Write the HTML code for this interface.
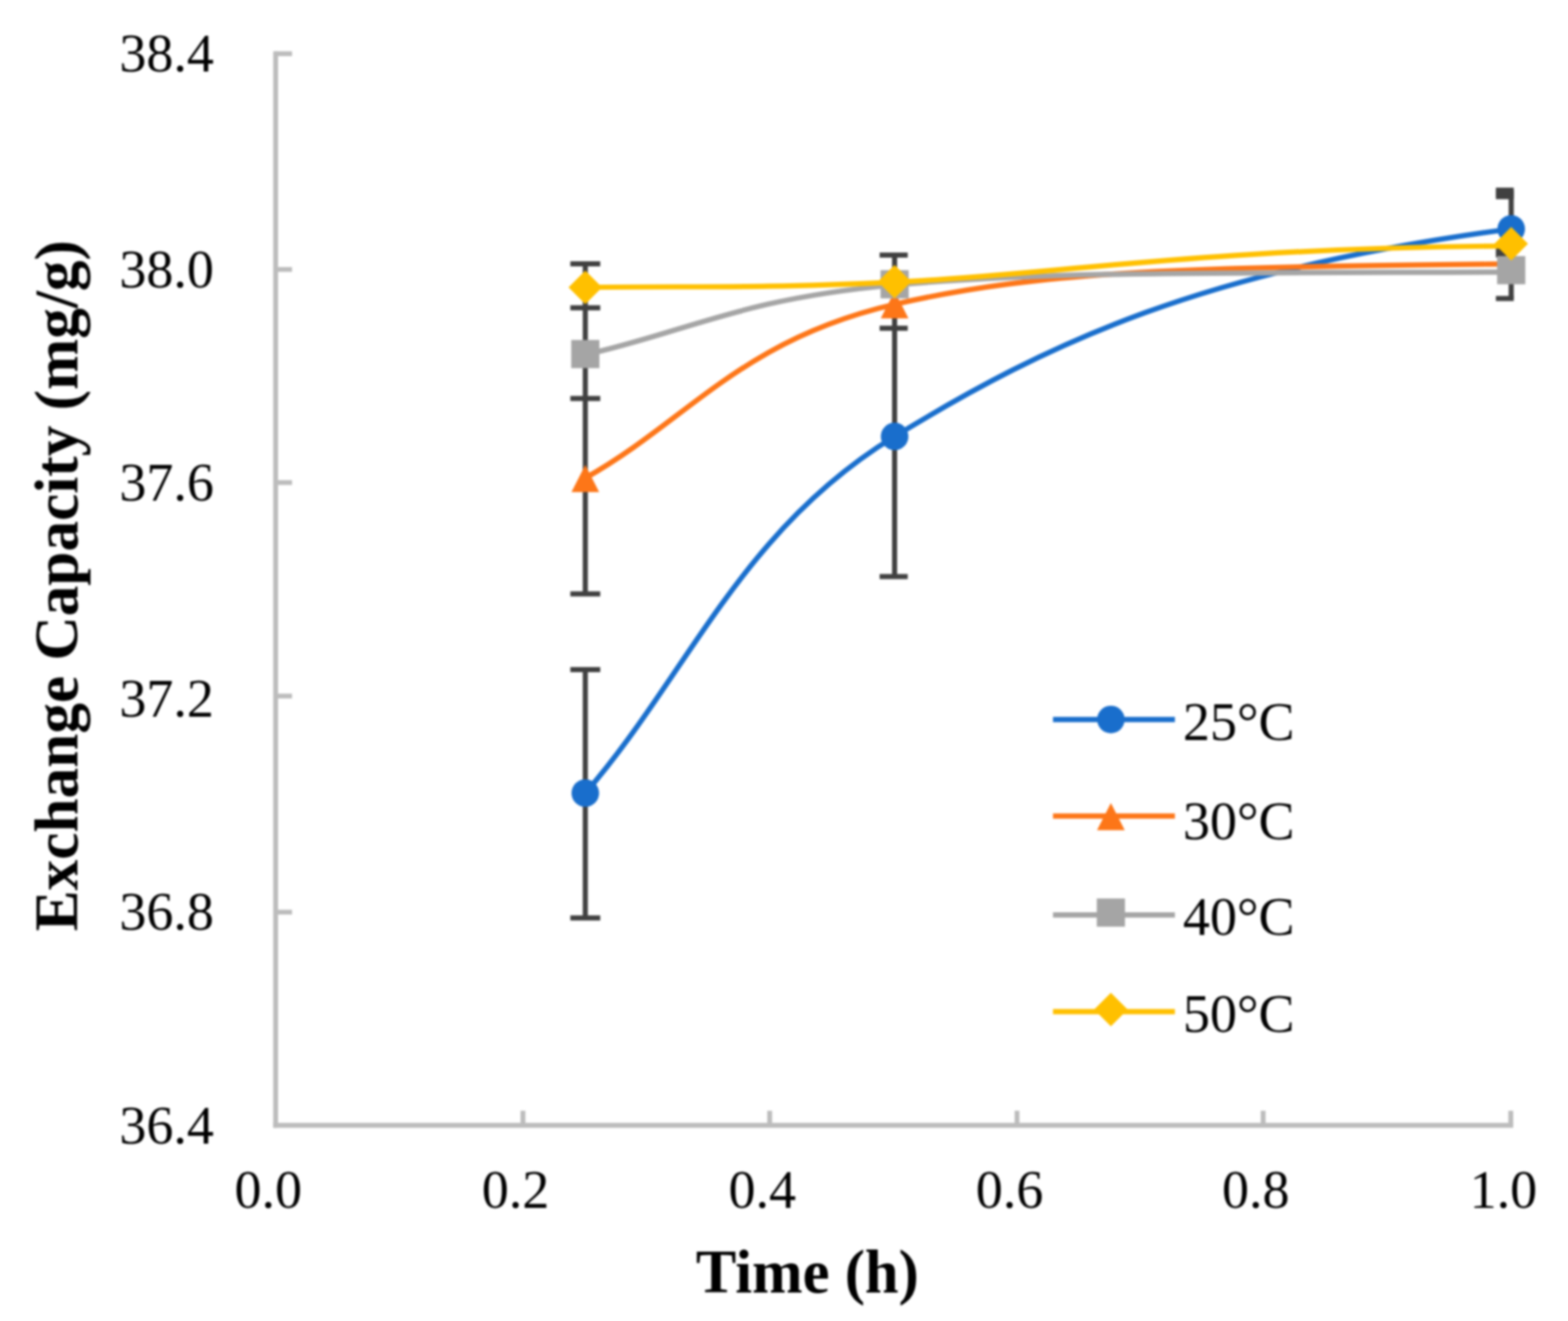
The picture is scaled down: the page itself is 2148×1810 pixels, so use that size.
<!DOCTYPE html>
<html lang="en"><head><meta charset="utf-8">
<title>Exchange Capacity vs Time</title>
<style>
html,body{margin:0;padding:0;background:#fff;}
body{width:2148px;height:1810px;}
svg{display:block;filter:blur(1.5px);}
text{font-family:"Liberation Serif","DejaVu Serif",serif;fill:#000;}
.tick{font-size:74px;}
.title{font-size:84.5px;font-weight:bold;}
</style></head><body>
<svg width="2148" height="1810" viewBox="0 0 2148 1810" role="img" aria-label="Exchange capacity versus time at 25, 30, 40 and 50 degrees Celsius">
<rect width="2148" height="1810" fill="#fff"/>
<g stroke="#bcbcbc" stroke-width="6.6" fill="none">
<path d="M377.6,70.3 V1545.2"/>
<path d="M374.3,1541.9 H2072.9"/>
<path d="M377.6,73.6 H400.1"/>
<path d="M377.6,369.2 H400.1"/>
<path d="M377.6,661.2 H400.1"/>
<path d="M377.6,953.7 H400.1"/>
<path d="M377.6,1249.8 H400.1"/>
<path d="M716.4,1541.9 V1521.9"/>
<path d="M1054.4,1541.9 V1521.9"/>
<path d="M1393.2,1541.9 V1521.9"/>
<path d="M1730.4,1541.9 V1521.9"/>
<path d="M2069.6,1541.9 V1521.9"/>
</g>
<g class="tick">
<text x="293" y="98.2" text-anchor="end">38.4</text>
<text x="293" y="393.8" text-anchor="end">38.0</text>
<text x="293" y="685.8" text-anchor="end">37.6</text>
<text x="293" y="981.5" text-anchor="end">37.2</text>
<text x="293" y="1274.4" text-anchor="end">36.8</text>
<text x="293" y="1566.5" text-anchor="end">36.4</text>
<text x="367.4" y="1654.5" text-anchor="middle">0.0</text>
<text x="706.2" y="1654.5" text-anchor="middle">0.2</text>
<text x="1044.2" y="1654.5" text-anchor="middle">0.4</text>
<text x="1383.0" y="1654.5" text-anchor="middle">0.6</text>
<text x="1720.2" y="1654.5" text-anchor="middle">0.8</text>
<text x="2059.4" y="1654.5" text-anchor="middle">1.0</text>
</g>
<text class="title" x="1106" y="1770.5" text-anchor="middle" textLength="305.5" lengthAdjust="spacingAndGlyphs">Time (h)</text>
<text class="title" transform="translate(105.5,802.5) rotate(-90)" text-anchor="middle" textLength="947" lengthAdjust="spacingAndGlyphs">Exchange Capacity (mg/g)</text>
<g stroke="#404040" stroke-width="7.0" fill="none">
<path d="M801.8,361.6 V813.7"/>
<path d="M781.3,361.6 H822.3"/>
<path d="M781.3,421.8 H822.3"/>
<path d="M781.3,546.0 H822.3"/>
<path d="M781.3,813.7 H822.3"/>
<path d="M801.8,917.6 V1257.8"/>
<path d="M781.3,917.6 H822.3"/>
<path d="M781.3,1257.8 H822.3"/>
<path d="M1225.5,349.4 V790.0"/>
<path d="M1205.0,349.4 H1243.5"/>
<path d="M1205.0,449.7 H1243.5"/>
<path d="M1205.0,790.0 H1243.5"/>
<path d="M2070.2,260.6 V409.0"/>
<path d="M2049.2,260.6 H2073.7"/>
<path d="M2049.2,265.0 H2073.7"/>
<path d="M2049.2,269.4 H2073.7"/>
<path d="M2049.2,343.2 H2073.7"/>
<path d="M2049.2,349.3 H2073.7"/>
<path d="M2049.2,409.0 H2073.7"/>
</g>
<path d="M801.8,1086.7 C943.0,923.8 1014.1,726.8 1225.5,598.0 C1436.9,469.2 1647.4,369.5 2070.2,313.7" stroke="#196ecc" stroke-width="7.2" fill="none" stroke-linecap="round"/>
<circle cx="801.8" cy="1086.7" r="18.9" fill="#196ecc"/>
<circle cx="1225.5" cy="598.0" r="18.9" fill="#196ecc"/>
<circle cx="2070.2" cy="313.7" r="18.9" fill="#196ecc"/>
<path d="M801.8,655.0 C943.0,575.7 1014.1,465.9 1225.5,417.0 C1436.9,368.1 1647.4,366.6 2070.2,361.5" stroke="#fd7618" stroke-width="7.2" fill="none" stroke-linecap="round"/>
<polygon points="801.8,637.0 820.8,674.3 782.8,674.3" fill="#fd7618"/>
<polygon points="1225.5,399.0 1244.5,436.3 1206.5,436.3" fill="#fd7618"/>
<polygon points="2070.2,343.5 2089.2,380.8 2051.2,380.8" fill="#fd7618"/>
<path d="M801.8,486.0 C943.0,454.2 1014.1,409.4 1225.5,390.5 C1436.9,371.6 1647.4,374.1 2070.2,372.8" stroke="#a5a5a5" stroke-width="7.2" fill="none" stroke-linecap="round"/>
<rect x="782.5" y="465.8" width="38.6" height="38.6" fill="#a5a5a5"/>
<rect x="1206.2" y="370.2" width="38.6" height="38.6" fill="#a5a5a5"/>
<rect x="2050.9" y="350.9" width="38.6" height="38.6" fill="#a5a5a5"/>
<path d="M801.8,393.8 C943.0,391.4 1014.1,396.1 1225.5,386.6 C1436.9,377.1 1647.4,339.5 2070.2,337.0" stroke="#ffc000" stroke-width="7.2" fill="none" stroke-linecap="round"/>
<polygon points="801.8,370.8 824.8,393.8 801.8,416.8 778.8,393.8" fill="#ffc000"/>
<polygon points="1225.5,363.0 1248.5,386.0 1225.5,409.0 1202.5,386.0" fill="#ffc000"/>
<polygon points="2070.2,310.9 2093.2,333.9 2070.2,356.9 2047.2,333.9" fill="#ffc000"/>
<path d="M1442.5,985.8 H1609.5" stroke="#196ecc" stroke-width="7.2" fill="none"/>
<circle cx="1521.8" cy="985.8" r="18.9" fill="#196ecc"/>
<text class="tick" x="1620.5" y="1014.3">25°C</text>
<path d="M1442.5,1118.2 H1609.5" stroke="#fd7618" stroke-width="7.2" fill="none"/>
<polygon points="1521.8,1100.2 1540.8,1137.5 1502.8,1137.5" fill="#fd7618"/>
<text class="tick" x="1620.5" y="1149.6">30°C</text>
<path d="M1442.5,1253.6 H1609.5" stroke="#a5a5a5" stroke-width="7.2" fill="none"/>
<rect x="1502.5" y="1231.1" width="38.6" height="38.6" fill="#a5a5a5"/>
<text class="tick" x="1620.5" y="1281.3">40°C</text>
<path d="M1442.5,1386.2 H1609.5" stroke="#ffc000" stroke-width="7.2" fill="none"/>
<polygon points="1521.8,1360.2 1544.8,1383.2 1521.8,1406.2 1498.8,1383.2" fill="#ffc000"/>
<text class="tick" x="1620.5" y="1413.7">50°C</text>
</svg>
</body></html>
